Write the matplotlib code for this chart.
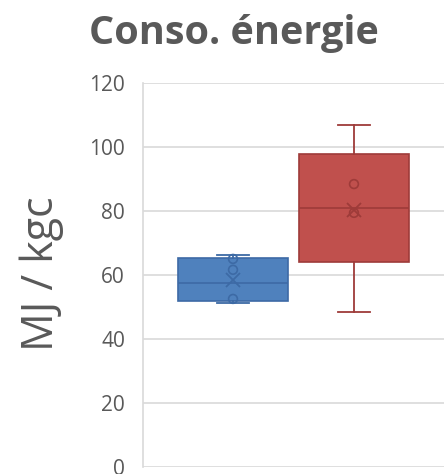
import matplotlib
matplotlib.use("Agg")
import matplotlib.pyplot as plt

# box statistics (MJ / kgc)
series = ["A", "B"]
colors = ["#4f81bd", "#c0504d"]
edges = ["#3d6aa5", "#9e3b39"]
whislo = [51.2, 48.4]
q1 = [51.9, 64.0]
med = [57.5, 80.9]
q3 = [65.3, 97.8]
whishi = [66.2, 106.9]
means = [58.4, 80.3]
inner_pts = [[65.0, 61.6, 52.5], [88.4, 79.4]]
yticks = [0, 20, 40, 60, 80, 100, 120]

fig = plt.figure(figsize=(4.44, 4.74), dpi=100)
ax = fig.add_axes([0.322, 0.015, 0.678, 0.81])

positions = [1, 2]
for i in range(len(series)):
    stats = [dict(label=series[i], whislo=whislo[i], q1=q1[i], med=med[i],
                  q3=q3[i], whishi=whishi[i], mean=means[i], fliers=[])]
    ax.bxp(stats, positions=[positions[i]], widths=0.91, patch_artist=True,
           showmeans=True, manage_ticks=False,
           boxprops=dict(facecolor=colors[i], edgecolor=edges[i], linewidth=1.2),
           medianprops=dict(color=edges[i], linewidth=1.2),
           whiskerprops=dict(color=edges[i], linewidth=1.3),
           capprops=dict(color=edges[i], linewidth=1.3),
           capwidths=0.26,
           meanprops=dict(marker="x", markeredgecolor=edges[i], markersize=10,
                          markeredgewidth=1.3))
    ax.scatter([positions[i]] * len(inner_pts[i]), inner_pts[i], s=40,
               facecolors="none", edgecolors=edges[i], linewidths=1.2, zorder=5)

ax.set_ylim(0, 120)
ax.set_xlim(0.256, 2.744)
ax.set_yticks(yticks)
ax.set_xticks([])
ax.yaxis.grid(True, color="#d9d9d9", linewidth=1.2)
ax.set_axisbelow(True)
for s in ["top", "right", "bottom"]:
    ax.spines[s].set_visible(False)
ax.spines["left"].set_color("#d9d9d9")
ax.spines["left"].set_linewidth(1.2)
ax.tick_params(axis="y", length=0, pad=13, labelsize=15, labelcolor="#595959")
for lab in ax.get_yticklabels():
    lab.set_fontfamily("Open Sans")

fig.text(0.527, 0.93, "Conso. énergie", ha="center", va="center",
         fontsize=28.5, fontweight="bold", color="#595959", family="Open Sans")
fig.text(0.095, 0.422, "MJ / kgc", ha="center", va="center", rotation=90,
         fontsize=31, color="#595959", family="Open Sans")

fig.savefig("out.png", dpi=100)
